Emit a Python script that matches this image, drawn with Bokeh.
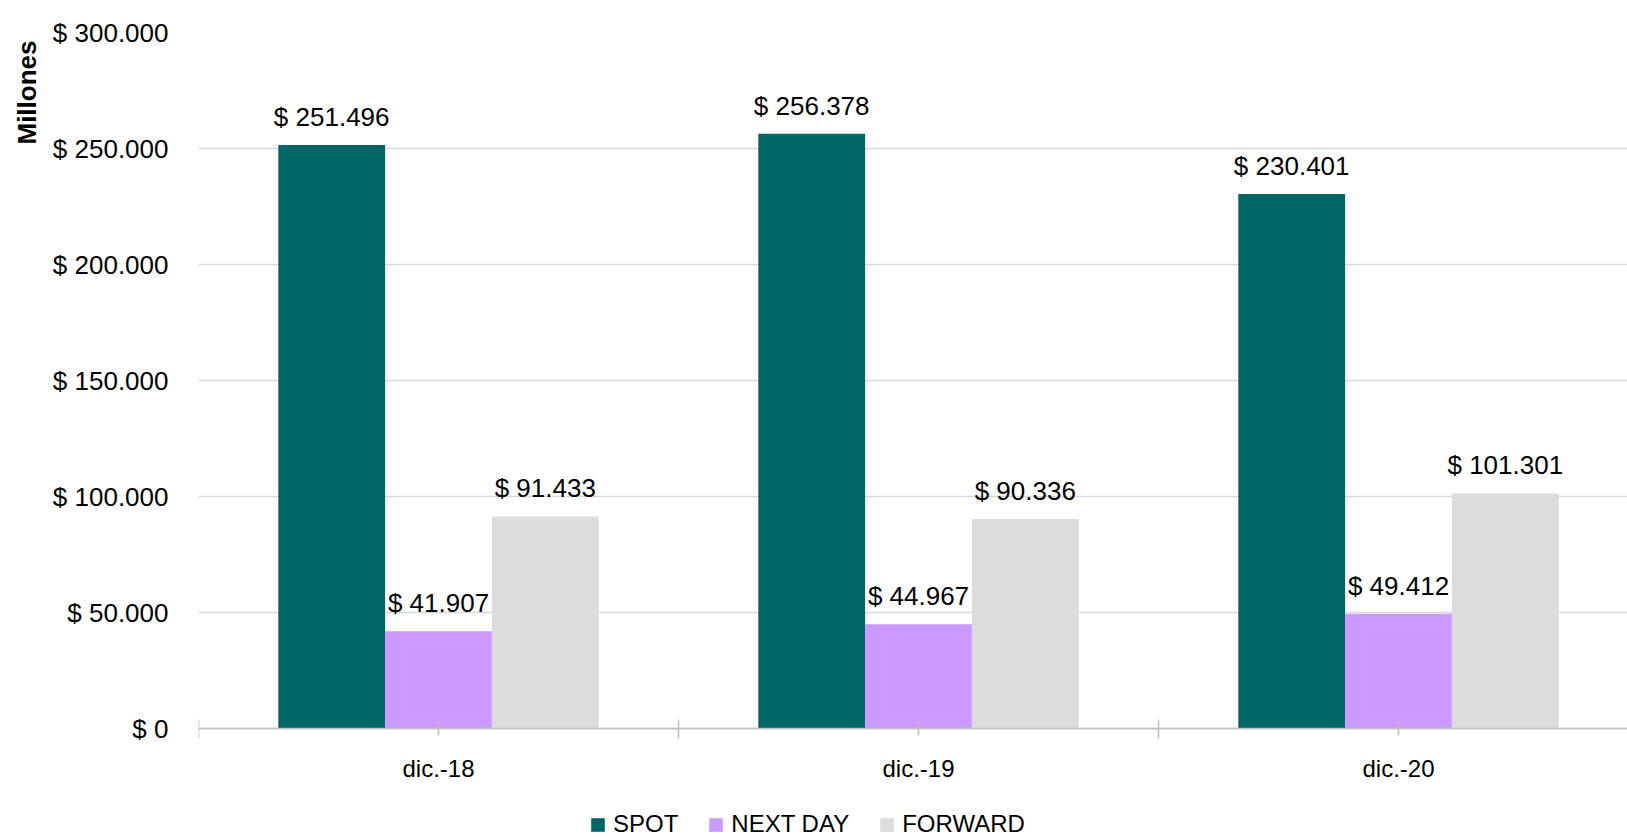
from bokeh.plotting import figure
from bokeh.models import (ColumnDataSource, Range1d, FixedTicker, LabelSet,
                          Title, Legend, LegendItem)
from bokeh.core.properties import value
from bokeh.embed import file_html
from bokeh.resources import INLINE

categories = ["dic.-18", "dic.-19", "dic.-20"]
series_names = ["SPOT", "NEXT DAY", "FORWARD"]
spot = [251496, 256378, 230401]
next_day = [41907, 44967, 49412]
forward = [91433, 90336, 101301]
y_ticks = [0, 50000, 100000, 150000, 200000, 250000, 300000]
y_tick_labels = ["$ 0", "$ 50.000", "$ 100.000", "$ 150.000",
                 "$ 200.000", "$ 250.000", "$ 300.000"]
colors = ["#006666", "#CC99FF", "#DCDCDC"]

FONT = "Liberation Sans"
BAR_W = 0.2225
W, H = 1627, 838
LEFT, TOP = 198, 32
PX_PER_UNIT = 480          # pixels per category slot
PLOT_H = 696               # pixels from 0 to 300.000


def money(v):
    return "$ " + f"{v:,}".replace(",", ".")


frame_w = W - LEFT
frame_h = H - TOP
y_max = y_ticks[-1]
y_min = -(frame_h - PLOT_H) / PLOT_H * y_max

p = figure(width=W, height=H,
           x_range=Range1d(0, frame_w / PX_PER_UNIT),
           y_range=Range1d(y_min, y_max),
           output_backend="svg", toolbar_location=None,
           min_border_left=LEFT, min_border_right=0,
           min_border_top=TOP, min_border_bottom=0)
p.outline_line_color = None
p.background_fill_color = "white"
p.border_fill_color = "white"

# y axis
p.yaxis.ticker = FixedTicker(ticks=y_ticks)
p.yaxis.major_label_overrides = {t: l for t, l in zip(y_ticks, y_tick_labels)}
p.yaxis.axis_line_color = None
p.yaxis.major_tick_line_color = None
p.yaxis.minor_tick_line_color = None
p.yaxis.major_tick_out = 0
p.yaxis.major_tick_in = 0
p.yaxis.major_label_standoff = 30
p.yaxis.major_label_text_font = FONT
p.yaxis.major_label_text_font_size = "26px"
p.yaxis.major_label_text_color = "black"

# x axis, drawn at y = 0
centers = [i + 0.5 for i in range(len(categories))]
bounds = [float(i) for i in range(len(categories) + 1)]
p.xaxis.fixed_location = 0
p.xaxis.ticker = FixedTicker(ticks=centers, minor_ticks=bounds)
p.xaxis.major_label_overrides = {c: name for c, name in zip(centers, categories)}
p.xaxis.axis_line_color = "#BFBFBF"
p.xaxis.axis_line_width = 1.5
p.xaxis.major_tick_line_color = "#BFBFBF"
p.xaxis.major_tick_line_width = 1.5
p.xaxis.minor_tick_line_color = "#BFBFBF"
p.xaxis.minor_tick_line_width = 1.5
p.xaxis.major_tick_in = 6
p.xaxis.major_tick_out = 7
p.xaxis.minor_tick_in = 9
p.xaxis.minor_tick_out = 10
p.xaxis.major_label_standoff = 16
p.xaxis.major_label_text_font = FONT
p.xaxis.major_label_text_font_size = "24px"
p.xaxis.major_label_text_color = "black"

p.xgrid.visible = False
p.ygrid.grid_line_color = "#D9D9D9"
p.ygrid.grid_line_width = 1.3

series = [spot, next_day, forward]
offsets = [-BAR_W, 0.0, BAR_W]
renderers = []
for name, vals, col, off in zip(series_names, series, colors, offsets):
    src = ColumnDataSource(dict(
        x=[c + off for c in centers],
        top=vals,
        label=[money(v) for v in vals],
    ))
    r = p.vbar(x="x", top="top", bottom=0, width=BAR_W, source=src,
               fill_color=col, line_color=None)
    renderers.append(r)
    p.add_layout(LabelSet(x="x", y="top", text="label", source=src,
                          text_align="center", text_baseline="alphabetic",
                          y_offset=19, text_font=value(FONT),
                          text_font_size=value("26px"),
                          text_color="black"))

p.add_layout(Title(text="Millones", align="right", offset=8, standoff=15,
                   text_font=FONT, text_font_style="bold",
                   text_font_size="26px", text_color="black"), "left")

legend = Legend(items=[LegendItem(label=n, renderers=[r])
                       for n, r in zip(series_names, renderers)],
                orientation="horizontal", location=(391, 0),
                padding=0, margin=0, spacing=29,
                glyph_width=17, glyph_height=17, label_standoff=7,
                label_height=24,
                border_line_color=None, background_fill_alpha=0,
                label_text_font=FONT, label_text_font_size="24px",
                label_text_color="black")
p.add_layout(legend, "center")

open("out.html", "w").write(file_html(p, INLINE))
